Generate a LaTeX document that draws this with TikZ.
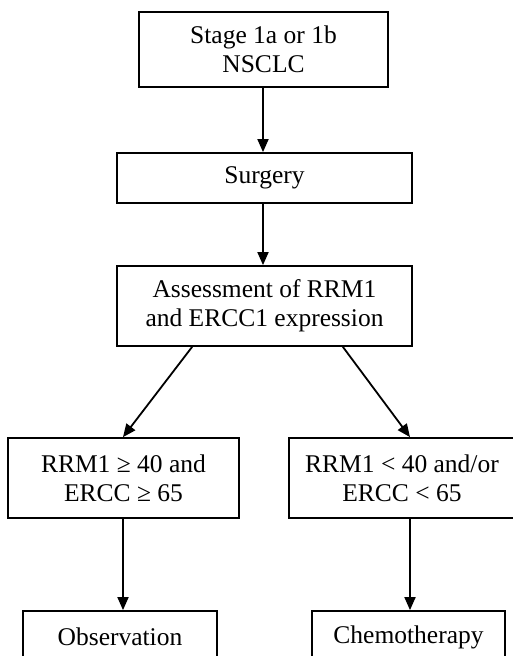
\documentclass[tikz,border=0pt]{standalone}
\usepackage{fontspec}
\setmainfont{Liberation Serif}
\usepackage{tikz}
\usetikzlibrary{arrows.meta}
\tikzstyle{es} = [-{Triangle[width=11pt,length=13pt]}]
\tikzstyle{box} = [draw, line width=1.8pt, align=center, inner sep=0pt, font=\fontsize{25.5}{29}\selectfont]

\begin{document}
\begin{tikzpicture}[yscale=-1, line width=1.8pt]
			\useasboundingbox (0pt,0pt) rectangle (512pt,656pt);
			\node[box, minimum width=249pt, minimum height=75pt] (stage) at (263.5pt,49.5pt) {Stage 1a or 1b\\NSCLC};
			\node[box, minimum width=295pt, minimum height=50pt] (surgery) at (264.5pt,178pt) {Surgery};
			\node[box, minimum width=295pt, minimum height=80pt] (assess) at (264.5pt,306pt) {Assessment of RRM1\\and ERCC1 expression};
			\node[box, minimum width=231pt, minimum height=80pt] (high) at (123.5pt,478pt) {RRM1 ≥ 40 and\\ERCC ≥ 65};
			\node[box, minimum width=226pt, minimum height=80pt] (low) at (402pt,478pt) {RRM1 < 40 and/or\\ERCC < 65};
			\node[box, minimum width=194pt, minimum height=52pt] (obs) at (120pt,637pt) {Observation};
			\node[box, minimum width=193pt, minimum height=52pt] (chemo) at (408.5pt,637pt) {Chemotherapy};
			\draw[es] ([xshift=-0.5pt]stage.south) -- ([xshift=-1.5pt]surgery.north);
			\draw[es] ([xshift=-1.5pt]surgery.south) -- ([xshift=-1.5pt]assess.north);
			\draw[es] ([xshift=76pt]assess.south west) -- ([xshift=-0.5pt]high.north);
			\draw[es] ([xshift=-70pt]assess.south east) -- ([xshift=8pt]low.north);
			\draw[es] ([xshift=-0.5pt]high.south) -- ([xshift=-0.5pt]high.south |- obs.north);
			\draw[es] ([xshift=8pt]low.south) -- ([xshift=8pt]low.south |- chemo.north);
		\end{tikzpicture}
\end{document}
